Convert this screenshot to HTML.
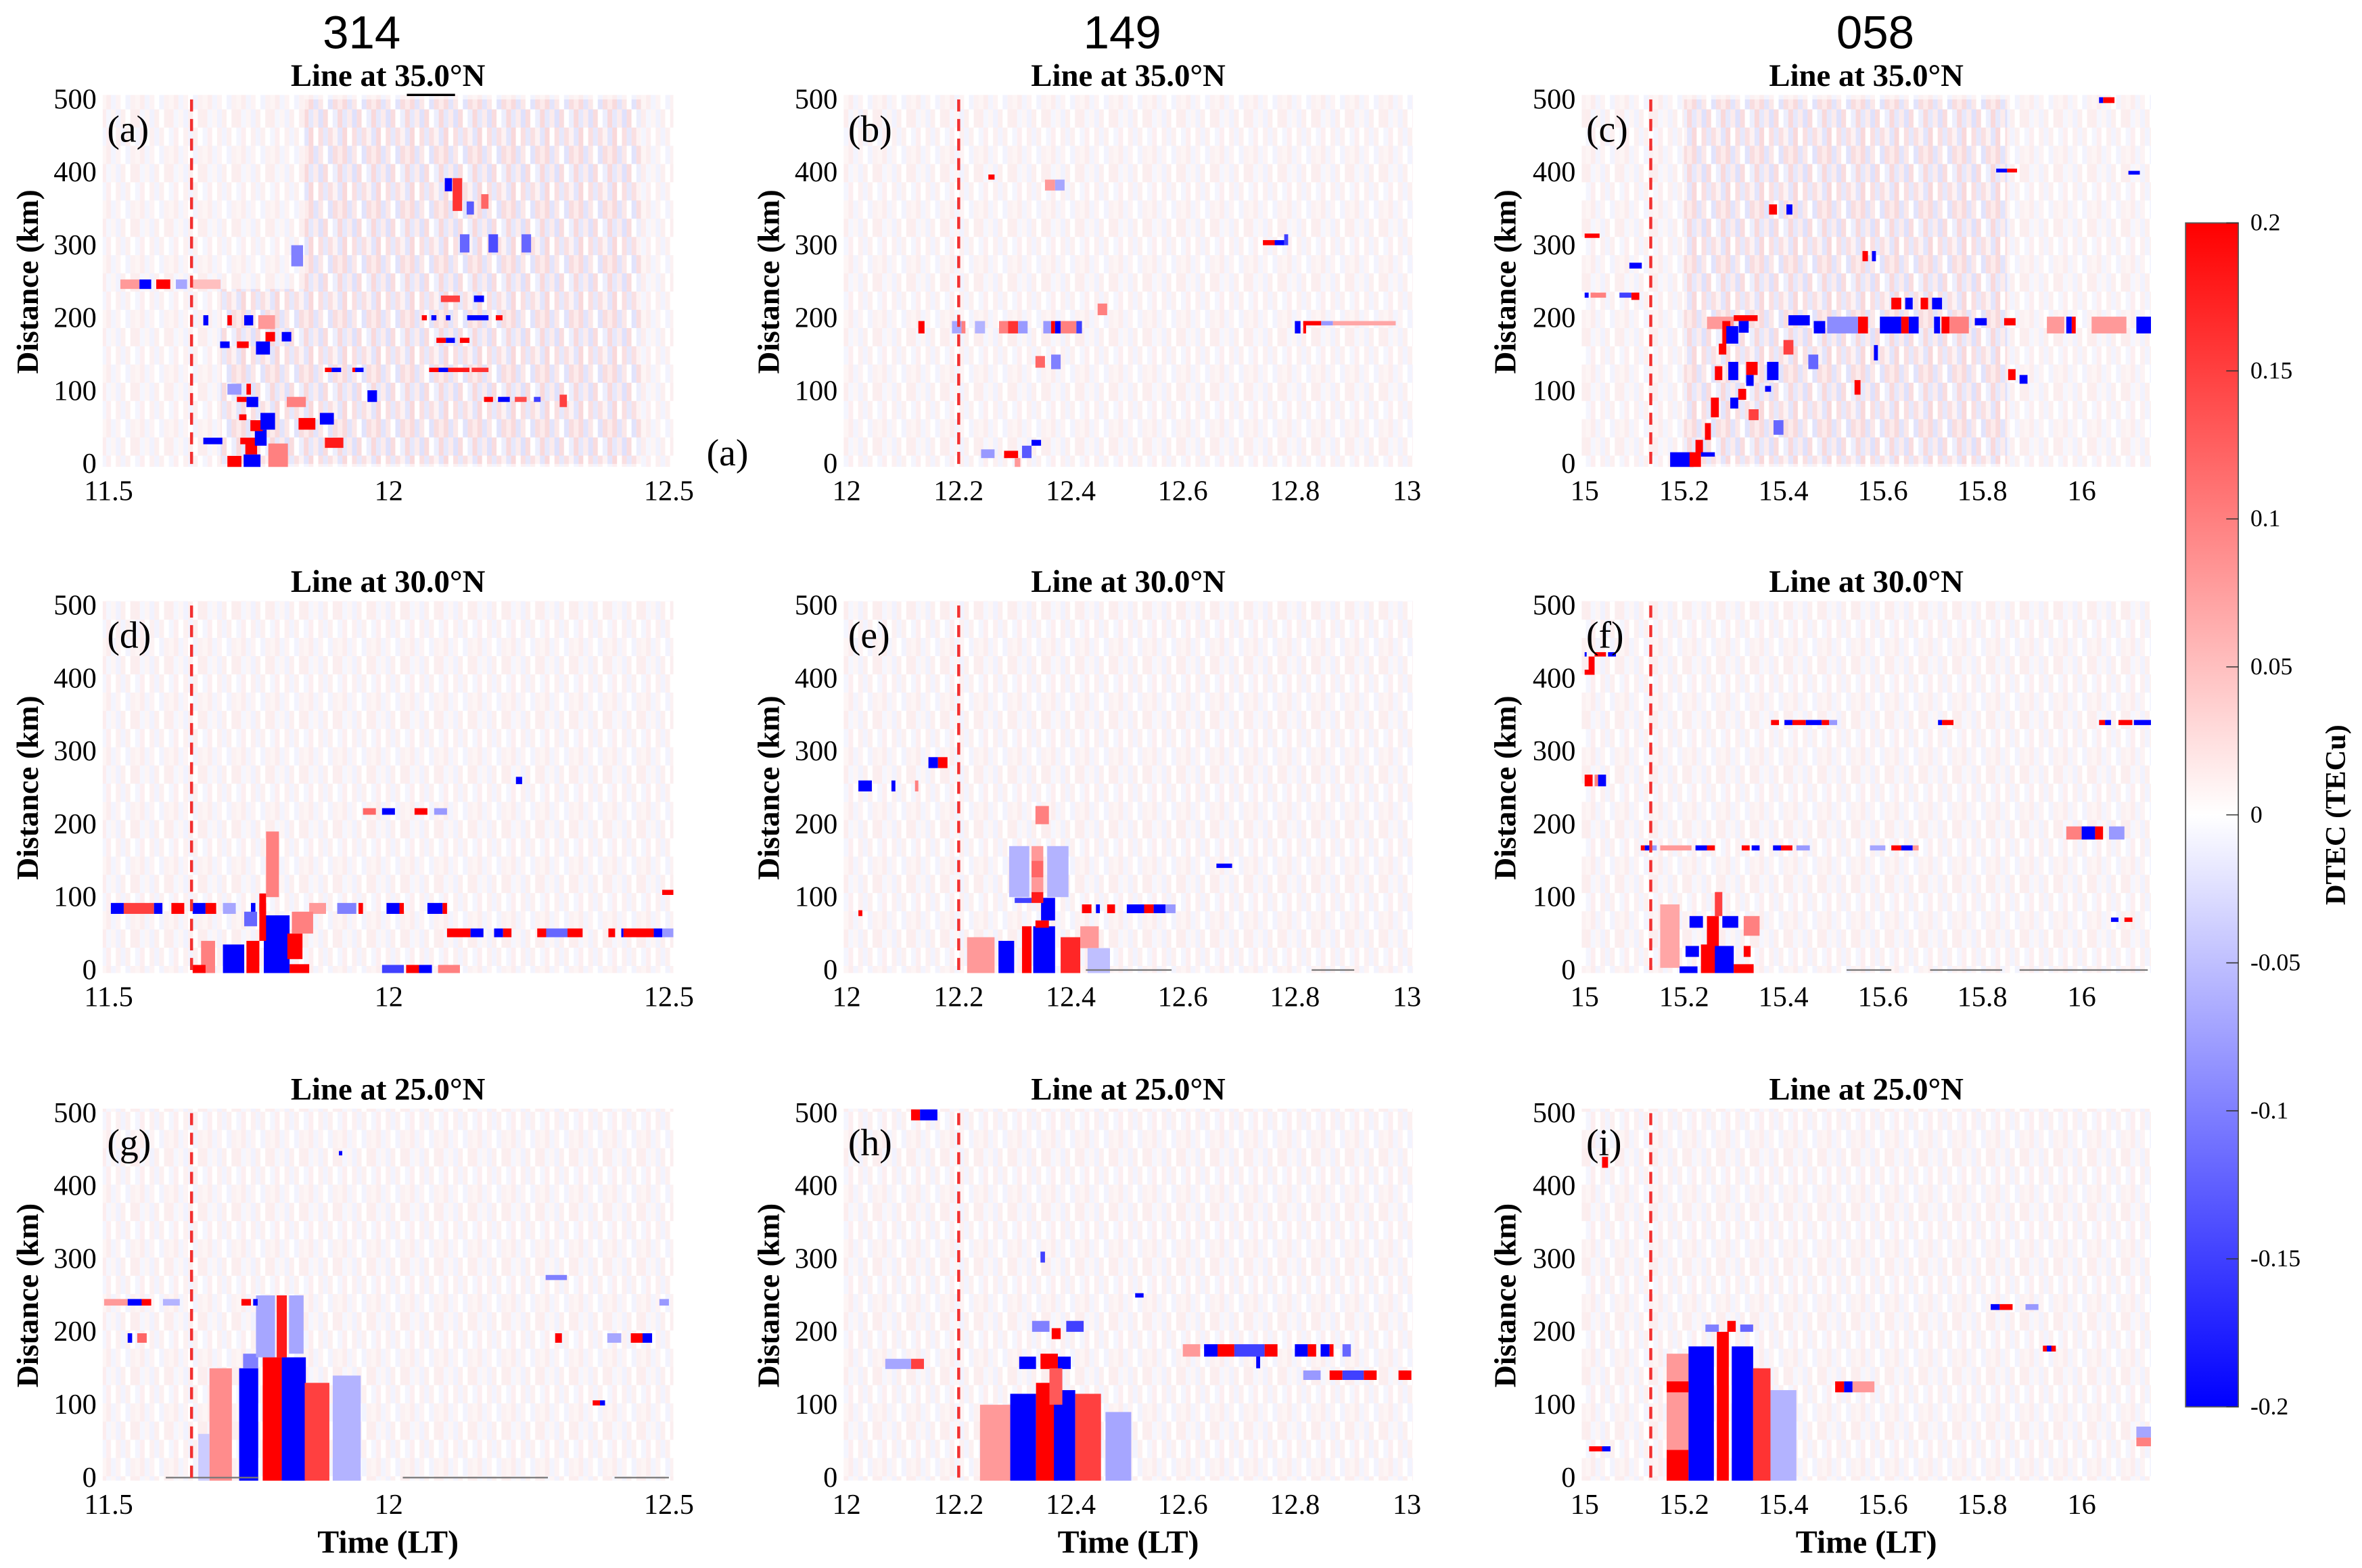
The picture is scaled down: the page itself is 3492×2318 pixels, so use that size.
<!DOCTYPE html>
<html><head><meta charset="utf-8"><title>DTEC keograms</title>
<style>
html,body{margin:0;padding:0;background:#fff;}
svg{display:block;}
text{font-family:"Liberation Serif",serif;fill:#000;}
</style></head>
<body>
<svg id="fig" xmlns="http://www.w3.org/2000/svg" width="3492" height="2318" viewBox="0 0 1568 1041">
<defs>
<pattern id="weakNoise" patternUnits="userSpaceOnUse" width="22.4" height="36.3">
<rect x="0" y="0" width="3.2" height="12.1" fill="#fcedee"/><rect x="3.2" y="0" width="3.2" height="12.1" fill="#f5f6fe"/><rect x="6.4" y="0" width="3.2" height="12.1" fill="#fdf5f5"/><rect x="9.6" y="0" width="3.2" height="12.1" fill="#f1f2fe"/><rect x="12.8" y="0" width="3.2" height="12.1" fill="#fcefef"/><rect x="16" y="0" width="3.2" height="12.1" fill="#fff"/><rect x="19.2" y="0" width="3.2" height="12.1" fill="#fbeeef"/>
<rect x="0" y="12.1" width="3.2" height="12.1" fill="#f4f5fe"/><rect x="3.2" y="12.1" width="3.2" height="12.1" fill="#fdeef0"/><rect x="6.4" y="12.1" width="3.2" height="12.1" fill="#fff"/><rect x="9.6" y="12.1" width="3.2" height="12.1" fill="#fcf0f1"/><rect x="12.8" y="12.1" width="3.2" height="12.1" fill="#f2f3fe"/><rect x="16" y="12.1" width="3.2" height="12.1" fill="#fcf0f0"/><rect x="19.2" y="12.1" width="3.2" height="12.1" fill="#fff"/>
<rect x="0" y="24.2" width="3.2" height="12.1" fill="#fdf5f5"/><rect x="3.2" y="24.2" width="3.2" height="12.1" fill="#fcedee"/><rect x="6.4" y="24.2" width="3.2" height="12.1" fill="#f3f4fe"/><rect x="9.6" y="24.2" width="3.2" height="12.1" fill="#fdf3f4"/><rect x="12.8" y="24.2" width="3.2" height="12.1" fill="#fff"/><rect x="16" y="24.2" width="3.2" height="12.1" fill="#f2f3fe"/><rect x="19.2" y="24.2" width="3.2" height="12.1" fill="#fcf1f2"/>
</pattern>
<pattern id="strongNoise" patternUnits="userSpaceOnUse" width="22.4" height="36.3">
<rect x="0" y="0" width="3.2" height="12.1" fill="#f9d9db"/><rect x="3.2" y="0" width="3.2" height="12.1" fill="#e6e8fc"/><rect x="6.4" y="0" width="3.2" height="12.1" fill="#fcebec"/><rect x="9.6" y="0" width="3.2" height="12.1" fill="#dfe1fc"/><rect x="12.8" y="0" width="3.2" height="12.1" fill="#f9dcde"/><rect x="16" y="0" width="3.2" height="12.1" fill="#fff"/><rect x="19.2" y="0" width="3.2" height="12.1" fill="#eceefd"/>
<rect x="0" y="12.1" width="3.2" height="12.1" fill="#e3e5fc"/><rect x="3.2" y="12.1" width="3.2" height="12.1" fill="#f9d8da"/><rect x="6.4" y="12.1" width="3.2" height="12.1" fill="#fff"/><rect x="9.6" y="12.1" width="3.2" height="12.1" fill="#fadfe1"/><rect x="12.8" y="12.1" width="3.2" height="12.1" fill="#e6e8fc"/><rect x="16" y="12.1" width="3.2" height="12.1" fill="#fae0e2"/><rect x="19.2" y="12.1" width="3.2" height="12.1" fill="#fdf2f3"/>
<rect x="0" y="24.2" width="3.2" height="12.1" fill="#fcebec"/><rect x="3.2" y="24.2" width="3.2" height="12.1" fill="#f9dadc"/><rect x="6.4" y="24.2" width="3.2" height="12.1" fill="#e2e4fc"/><rect x="9.6" y="24.2" width="3.2" height="12.1" fill="#fbe7e8"/><rect x="12.8" y="24.2" width="3.2" height="12.1" fill="#fff"/><rect x="16" y="24.2" width="3.2" height="12.1" fill="#e1e3fc"/><rect x="19.2" y="24.2" width="3.2" height="12.1" fill="#f9dddf"/>
</pattern>
<linearGradient id="cbGrad" x1="0" y1="0" x2="0" y2="1">
<stop offset="0" stop-color="#ff0000"/><stop offset="0.5" stop-color="#ffffff"/><stop offset="1" stop-color="#0000ff"/>
</linearGradient>
</defs>
</svg>
<script>
// ---------- data (t0 [h LT], t1, d0 [km], d1, DTEC [TECu]) ----------
const panelA = [
[11.521,11.555,240,253,0.08],[11.555,11.576,240,253,-0.2],[11.585,11.61,240,253,0.2],[11.62,11.64,240,253,-0.07],[11.65,11.7,240,253,0.05],
[11.669,11.703,27,36,-0.2],[11.735,11.756,27,36,0.2],
[11.712,11.737,0,11,0.2],[11.741,11.771,0,13,-0.2],[11.744,11.765,13,36,0.2],[11.761,11.782,25,47,-0.2],[11.753,11.775,45,60,0.2],[11.771,11.797,47,70,-0.2],[11.733,11.746,60,68,0.2],[11.746,11.767,78,92,-0.2],[11.729,11.746,85,92,0.2],[11.746,11.754,95,110,0.2],[11.712,11.737,95,110,-0.08],
[11.839,11.869,47,63,0.2],[11.886,11.919,22,36,0.18],[11.877,11.902,54,70,-0.2],[11.785,11.82,0,28,0.1],[11.818,11.852,78,92,0.1],[11.962,11.979,85,101,-0.2],
[11.886,11.898,126,132,0.2],[11.898,11.915,126,132,-0.2],[11.935,11.94,126,132,0.2],[11.94,11.955,126,132,-0.2],
[11.699,11.716,159,168,-0.2],[11.729,11.75,159,168,0.2],[11.763,11.788,150,168,-0.2],[11.78,11.797,168,181,0.2],[11.809,11.826,168,181,-0.2],
[11.669,11.678,190,204,-0.2],[11.712,11.72,190,204,0.2],[11.742,11.758,190,204,-0.2],[11.767,11.797,185,204,0.08],
[12.059,12.068,197,204,0.2],[12.076,12.085,197,204,-0.2],[12.102,12.11,197,204,-0.2],[12.14,12.178,197,204,-0.2],[12.191,12.203,197,204,0.2],
[12.093,12.127,222,231,0.15],[12.152,12.17,222,231,-0.2],
[12.085,12.102,166,173,0.2],[12.102,12.118,166,173,-0.2],[12.127,12.144,166,173,0.2],
[12.072,12.089,126,132,0.2],[12.089,12.106,126,132,-0.2],[12.106,12.144,126,132,0.18],[12.148,12.178,126,132,0.16],
[12.17,12.186,85,92,0.2],[12.195,12.216,85,92,-0.2],[12.225,12.246,85,92,0.14],[12.259,12.271,85,92,-0.15],[12.305,12.318,78,95,0.15],
[11.826,11.847,271,300,-0.1],[12.127,12.144,290,315,-0.12],[12.178,12.195,290,315,-0.14],[12.237,12.254,290,315,-0.12],
[12.1,12.113,374,392,-0.2],[12.114,12.131,347,392,0.16],[12.139,12.152,342,360,-0.13],[12.165,12.178,350,370,0.12]
];
const panelB = [
[12.128,12.139,179,196,0.2],[12.188,12.205,179,196,-0.07],[12.205,12.212,179,196,0.1],[12.229,12.247,179,196,-0.06],[12.272,12.288,179,196,0.1],[12.288,12.306,179,196,0.16],[12.306,12.323,179,196,-0.08],[12.351,12.365,179,196,-0.08],[12.365,12.372,179,196,0.2],[12.372,12.382,179,196,-0.2],[12.382,12.41,179,196,0.1],[12.41,12.42,179,196,-0.15],
[12.8,12.81,179,196,-0.2],[12.815,12.847,190,196,0.2],[12.815,12.82,179,196,0.2],[12.847,12.868,190,196,-0.08],[12.868,12.98,190,196,0.07],
[12.743,12.764,300,307,0.2],[12.764,12.781,300,307,-0.2],[12.781,12.788,300,315,-0.15],
[12.253,12.264,390,397,0.2],
[12.24,12.264,8,20,-0.08],[12.281,12.306,8,18,0.2],[12.313,12.33,8,25,-0.13],[12.33,12.347,25,33,-0.2],[12.3,12.31,0,8,0.08],
[12.354,12.372,375,390,0.08],[12.372,12.389,375,390,-0.07],[12.337,12.354,132,148,0.12],[12.365,12.382,130,150,-0.1],[12.448,12.465,204,220,0.1]
];
const panelC = [
[15.246,15.3,185,202,0.08],[15.3,15.348,196,204,0.2],[15.31,15.33,180,196,-0.2],[15.41,15.453,190,204,-0.2],[15.461,15.484,179,196,-0.2],[15.488,15.55,179,202,-0.09],[15.55,15.57,179,202,0.2],[15.594,15.637,179,202,-0.2],[15.637,15.652,179,202,0.2],[15.652,15.672,179,202,-0.2],[15.703,15.715,179,202,-0.2],[15.718,15.734,179,202,0.2],[15.734,15.773,179,202,0.1],[15.785,15.809,190,200,-0.2],[15.844,15.867,190,200,0.2],[15.93,15.965,179,202,0.08],[15.969,15.98,179,202,-0.2],[15.98,15.988,179,202,0.2],[16.02,16.09,179,202,0.08],[16.11,16.14,179,202,-0.2],
[15.223,15.238,15,33,0.2],[15.242,15.254,33,56,0.2],[15.254,15.27,64,91,0.2],[15.262,15.277,115,134,0.2],[15.27,15.285,150,165,0.2],[15.277,15.293,165,196,0.2],[15.285,15.309,165,189,-0.2],[15.289,15.309,115,140,-0.2],[15.325,15.348,122,140,0.2],[15.367,15.39,115,140,-0.2],[15.325,15.34,107,122,-0.2],[15.309,15.325,88,103,0.2],[15.293,15.309,76,91,-0.2],[15.363,15.375,99,107,-0.2],[15.543,15.555,95,115,0.2],[15.582,15.59,142,163,-0.2],[15.559,15.57,278,292,0.2],[15.578,15.586,278,292,-0.2],
[15.617,15.637,212,228,0.2],[15.645,15.66,212,228,-0.2],[15.676,15.691,212,228,0.2],[15.699,15.719,212,228,-0.2],[15.371,15.387,342,356,0.2],[15.406,15.418,342,356,-0.2],[15.852,15.867,115,130,0.2],[15.875,15.891,110,122,-0.2],
[15.172,15.219,0,16,-0.2],[15.211,15.234,0,16,0.2],[15.234,15.262,10,16,-0.2],
[16.043,16.066,495,503,0.2],[16.035,16.043,495,503,-0.2],[15.0,15.03,310,316,0.2],[15.09,15.115,268,276,-0.2],[15.0,15.008,228,235,-0.2],[15.012,15.043,228,235,0.1],[15.07,15.094,228,235,-0.15],[15.094,15.11,225,235,0.2],
[15.828,15.85,401,405,-0.2],[15.85,15.87,401,405,0.2],[16.094,16.117,397,402,-0.2],
[15.33,15.35,60,75,0.15],[15.38,15.4,40,60,-0.12],[15.4,15.42,150,170,0.15],[15.45,15.47,130,150,-0.12]
];
const panelD = [
[11.504,11.527,77,92,-0.2],[11.527,11.581,77,92,0.15],[11.581,11.596,77,92,-0.2],[11.612,11.635,77,92,0.2],[11.65,11.673,77,92,-0.2],[11.673,11.692,77,92,0.2],[11.704,11.727,77,92,-0.07],[11.754,11.762,77,92,-0.2],[11.769,11.781,77,92,0.2],[11.858,11.888,77,92,0.08],[11.908,11.942,77,92,-0.1],[11.946,11.954,77,92,0.2],[11.996,12.019,77,92,-0.2],[12.019,12.027,77,92,0.2],[12.069,12.096,77,92,-0.2],[12.096,12.104,77,92,0.2],
[12.104,12.146,45,57,0.2],[12.146,12.169,45,57,-0.2],[12.188,12.204,45,57,-0.2],[12.204,12.219,45,57,0.2],[12.265,12.281,45,57,0.2],[12.281,12.319,45,57,-0.12],[12.319,12.346,45,57,0.2],[12.392,12.404,45,57,0.2],[12.415,12.419,45,57,-0.2],[12.419,12.473,45,57,0.2],[12.473,12.488,45,57,-0.2],[12.488,12.508,45,57,-0.08],
[12.488,12.508,103,110,0.2],
[11.704,11.742,0,35,-0.2],[11.777,11.823,0,75,-0.2],[11.746,11.769,0,40,0.2],[11.769,11.781,40,105,0.2],[11.819,11.846,15,50,0.2],[11.827,11.865,50,80,0.1],[11.823,11.858,0,8,0.2],[11.781,11.804,100,190,0.1],[11.742,11.765,60,80,-0.12],[11.665,11.69,0,40,0.1],
[11.65,11.673,0,7,0.2],[11.988,12.027,0,7,-0.15],[12.031,12.054,0,7,0.2],[12.054,12.077,0,7,-0.2],[12.088,12.127,0,7,0.1],
[11.954,11.977,213,222,0.12],[11.988,12.011,213,222,-0.2],[12.046,12.069,213,222,0.2],[12.081,12.104,213,222,-0.08],
[12.227,12.238,255,265,-0.2]
];
const panelE = [
[12.146,12.163,277,292,-0.2],[12.163,12.18,277,292,0.2],
[12.021,12.045,245,260,-0.2],[12.08,12.087,245,260,-0.2],[12.122,12.128,245,260,0.1],
[12.021,12.028,74,82,0.2],
[12.347,12.372,68,99,-0.2],[12.42,12.437,78,90,0.2],[12.445,12.452,78,90,-0.2],[12.465,12.479,78,90,0.2],[12.5,12.531,78,90,-0.2],[12.531,12.548,78,90,0.2],[12.548,12.569,78,90,-0.2],[12.569,12.587,78,90,-0.08],
[12.271,12.299,0,40,-0.2],[12.313,12.33,0,60,0.2],[12.333,12.372,0,60,-0.2],[12.382,12.417,0,45,0.17],[12.215,12.264,0,45,0.08],
[12.33,12.351,127,150,0.12],[12.33,12.351,92,107,0.18],[12.33,12.351,107,127,0.08],[12.33,12.351,150,170,0.08],[12.29,12.326,100,170,-0.06],[12.358,12.396,100,170,-0.06],[12.337,12.361,58,68,0.2],[12.3,12.33,92,99,-0.15],
[12.337,12.361,200,225,0.1],[12.66,12.688,140,146,-0.2],
[12.417,12.45,30,60,0.08],[12.43,12.47,0,30,-0.05]
];
const panelF = [
[15.375,15.391,336,343,0.2],[15.402,15.418,336,343,-0.2],[15.418,15.445,336,343,0.2],[15.445,15.477,336,343,-0.2],[15.477,15.492,336,343,0.2],[15.492,15.508,336,343,-0.08],[15.711,15.719,336,343,-0.2],[15.719,15.742,336,343,0.2],[16.035,16.047,336,343,0.2],[16.047,16.059,336,343,-0.2],[16.074,16.102,336,343,0.2],[16.105,16.14,336,343,-0.2],
[15.113,15.121,164,171,0.2],[15.121,15.133,164,171,-0.2],[15.133,15.145,164,171,-0.08],[15.152,15.215,164,171,0.08],[15.223,15.246,164,171,-0.2],[15.246,15.262,164,171,0.2],[15.316,15.332,164,171,0.2],[15.336,15.352,164,171,-0.2],[15.379,15.395,164,171,-0.2],[15.395,15.418,164,171,0.2],[15.426,15.453,164,171,-0.08],[15.574,15.605,164,171,-0.07],[15.617,15.637,164,171,0.2],[15.637,15.66,164,171,-0.2],[15.66,15.672,164,171,0.08],
[15.0,15.004,430,436,-0.2],[15.02,15.043,430,436,0.2],[15.047,15.063,430,436,-0.2],[15.008,15.02,405,430,0.2],[15.0,15.012,405,412,0.2],[15.0,15.016,252,268,0.2],[15.02,15.027,252,268,0.1],[15.027,15.043,252,268,-0.2],
[15.969,16.0,179,197,0.1],[16.0,16.027,179,197,-0.2],[16.027,16.043,179,197,0.2],[16.055,16.086,179,197,-0.08],[16.059,16.074,66,72,-0.2],[16.086,16.102,66,72,0.2],
[15.152,15.191,3,90,0.07],[15.32,15.352,47,74,0.1],
[15.211,15.238,58,74,-0.2],[15.246,15.27,0,74,0.2],[15.262,15.277,74,107,0.15],[15.277,15.309,58,74,-0.2],[15.203,15.23,18,33,-0.2],[15.234,15.262,0,35,0.2],[15.262,15.3,0,33,-0.2],[15.191,15.227,0,5,-0.2],[15.3,15.34,0,8,0.2],[15.32,15.334,18,33,0.2]
];
const panelG = [
[11.68,11.72,0,150,0.09],[11.66,11.68,0,60,-0.04],[11.733,11.767,0,150,-0.2],[11.74,11.767,150,170,-0.1],[11.775,11.809,0,165,0.2],[11.809,11.852,0,165,-0.2],[11.85,11.894,0,130,0.15],[11.9,11.95,0,140,-0.06],
[11.763,11.797,165,250,-0.07],[11.822,11.848,170,250,-0.07],[11.8,11.818,165,250,0.18],
[11.492,11.534,236,245,0.08],[11.534,11.559,236,245,-0.2],[11.559,11.576,236,245,0.2],[11.597,11.627,236,245,-0.06],[11.737,11.754,236,245,0.2],[11.758,11.766,236,245,-0.2],[12.483,12.5,236,245,-0.08],
[11.534,11.542,185,198,-0.2],[11.551,11.568,185,198,0.12],[12.297,12.309,185,198,0.2],[12.39,12.415,185,198,-0.07],[12.432,12.453,185,198,0.2],[12.453,12.47,185,198,-0.2],
[12.364,12.377,99,106,0.2],[12.377,12.386,99,106,-0.2],
[11.911,11.917,442,448,-0.2],[12.28,12.318,271,278,-0.1]
];
const panelH = [
[12.238,12.292,0,100,0.08],[12.292,12.338,0,115,-0.2],[12.338,12.377,0,130,0.2],[12.37,12.408,0,120,-0.2],[12.408,12.454,0,115,0.15],[12.462,12.508,0,90,-0.07],
[12.308,12.338,149,166,-0.2],[12.346,12.377,149,170,0.2],[12.377,12.4,149,166,-0.2],[12.331,12.362,200,215,-0.1],[12.366,12.382,190,205,0.2],[12.392,12.423,200,215,-0.15],[12.362,12.385,100,150,0.13],
[12.6,12.631,166,183,0.08],[12.638,12.662,166,183,-0.2],[12.662,12.692,166,183,0.2],[12.692,12.746,166,183,-0.15],[12.746,12.769,166,183,0.2],[12.8,12.823,166,183,-0.2],[12.823,12.838,166,183,0.2],[12.846,12.862,166,183,-0.2],[12.862,12.869,166,183,0.2],[12.885,12.9,166,183,-0.12],[12.731,12.738,150,166,-0.2],
[12.815,12.846,134,147,-0.08],[12.862,12.885,134,147,0.2],[12.885,12.923,134,147,-0.15],[12.923,12.946,134,147,0.2],[12.985,13.008,134,147,0.2],
[12.115,12.131,490,505,0.2],[12.131,12.162,490,505,-0.2],
[12.115,12.138,149,163,0.15],[12.069,12.115,149,163,-0.07],
[12.515,12.53,247,253,-0.2],[12.346,12.354,295,310,-0.15]
];
const panelI = [
[15.165,15.252,38,170,0.08],[15.165,15.209,0,38,0.2],[15.209,15.26,0,180,-0.2],[15.266,15.29,0,200,0.2],[15.296,15.339,0,180,-0.2],[15.339,15.374,0,150,0.16],[15.374,15.426,0,120,-0.06],[15.165,15.209,117,132,0.2],
[15.243,15.27,200,210,-0.1],[15.287,15.304,200,215,0.2],[15.313,15.339,200,210,-0.12],
[15.009,15.035,36,43,0.2],[15.035,15.052,36,43,-0.2],[15.504,15.522,117,132,0.2],[15.522,15.539,117,132,-0.2],[15.539,15.583,117,132,0.08],
[15.817,15.835,230,238,-0.2],[15.835,15.861,230,238,0.2],[15.887,15.913,230,238,-0.08],[15.922,15.948,173,181,0.2],[15.93,15.939,173,181,-0.2],
[15.035,15.047,425,440,0.2],[16.11,16.14,43,55,0.1],[16.11,16.14,55,70,-0.07]
];
// active (noisier) regions: [t0,t1,d0,d1]
const regionsA = [[11.7,12.45,0,240],[11.85,12.45,240,500]];
const regionsC = [[15.2,15.85,0,500]];
// gray zero-distance segments: [t0,t1]
const zeroG = [[11.602,11.767],[12.025,12.284],[12.403,12.5]];
const zeroE = [[12.427,12.58],[12.83,12.906]];
const zeroF = [[15.527,15.617],[15.695,15.84],[15.875,16.133]];
// axis ticks
const xTicks1 = [11.5,12,12.5];
const xTicks2 = [12,12.2,12.4,12.6,12.8,13];
const xTicks3 = [15,15.2,15.4,15.6,15.8,16];
const yTicks = [0,100,200,300,400,500];
const cbTicks = [0.2,0.15,0.1,0.05,0,-0.05,-0.1,-0.15,-0.2];
const colHeaders = ['314','149','058'];
const rowTitles = ['Line at 35.0°N','Line at 30.0°N','Line at 25.0°N'];
const onsetTimes = [11.648,12.2,15.133];

// ---------- layout ----------
const cols = [
 {t0:11.5,px0:72,pph:372,left:68,right:447,ticks:xTicks1,ylab:18,hx:240},
 {t0:12,px0:562,pph:372,left:560,right:938,ticks:xTicks2,ylab:510,hx:745},
 {t0:15,px0:1052,pph:330,left:1050,right:1428,ticks:xTicks3,ylab:999,hx:1245}
];
const rowBase = [308,644,981];
const KM = 0.484;
const panels = [
 {id:'a',c:0,r:0,rects:panelA,regions:regionsA,zero:[]},
 {id:'b',c:1,r:0,rects:panelB,regions:[],zero:[]},
 {id:'c',c:2,r:0,rects:panelC,regions:regionsC,zero:[]},
 {id:'d',c:0,r:1,rects:panelD,regions:[],zero:[]},
 {id:'e',c:1,r:1,rects:panelE,regions:[],zero:zeroE},
 {id:'f',c:2,r:1,rects:panelF,regions:[],zero:zeroF},
 {id:'g',c:0,r:2,rects:panelG,regions:[],zero:zeroG},
 {id:'h',c:1,r:2,rects:panelH,regions:[],zero:[]},
 {id:'i',c:2,r:2,rects:panelI,regions:[],zero:[]}
];
const NS = 'http://www.w3.org/2000/svg';
const svg = document.getElementById('fig');
function mk(tag, parent){ const e=document.createElementNS(NS,tag); parent.appendChild(e); return e; }
function color(v){
 const t=Math.min(Math.abs(v)/0.2,1); const c=Math.round(255*(1-t));
 return v>=0 ? `rgb(255,${c},${c})` : `rgb(${c},${c},255)`;
}
function fmt(v){ return (Math.round(v*10)/10).toString(); }

colHeaders.forEach((h,i)=>{
 const t=mk('text',svg);
 
 
 t.setAttribute('x',cols[i].hx); t.setAttribute('y',32);
 t.setAttribute('text-anchor','middle');
 t.setAttribute('style','font-family:"Liberation Sans",sans-serif;font-size:31px;');
 t.textContent=h;
});

panels.forEach(p=>{
 const col=cols[p.c], base=rowBase[p.r];
 const xs=t=>col.px0+(t-col.t0)*col.pph;
 const ys=d=>base-d*KM;
 const top=base-245, bot=base+2;
 const g=mk('g',svg);
 
 
 const cp=mk('clipPath',g); cp.setAttribute('id','clip-'+p.id);
 const cr=mk('rect',cp); cr.setAttribute('x',col.left); cr.setAttribute('y',top); cr.setAttribute('width',col.right-col.left); cr.setAttribute('height',bot-top);
 const hm=mk('g',g);
 
 
 hm.setAttribute('clip-path','url(#clip-'+p.id+')');
 const bg=mk('rect',hm);
 
 
 bg.setAttribute('x',col.left); bg.setAttribute('y',top); bg.setAttribute('width',col.right-col.left); bg.setAttribute('height',bot-top); bg.setAttribute('fill','url(#weakNoise)');
 p.regions.forEach(rg=>{
  const r=mk('rect',hm);
  
  
  const y1=Math.max(ys(rg[3]),top);
  r.setAttribute('x',xs(rg[0])); r.setAttribute('y',y1); r.setAttribute('width',xs(rg[1])-xs(rg[0])); r.setAttribute('height',ys(rg[2])-y1);
  r.setAttribute('fill','url(#strongNoise)');
 });
 p.rects.forEach(c=>{
  const r=mk('rect',hm);
  
  
  const x0=xs(c[0]), x1=xs(c[1]), y0=ys(c[3]), y1=ys(c[2])+ (c[2]===0?3:0);
  r.setAttribute('x',x0); r.setAttribute('y',y0); r.setAttribute('width',Math.max(x1-x0,1.2)); r.setAttribute('height',Math.max(y1-y0,2.5));
  r.setAttribute('fill',color(c[4]));
 });
 p.zero.forEach(z=>{
  const l=mk('line',hm);
  
  
  l.setAttribute('x1',xs(z[0])); l.setAttribute('x2',xs(z[1])); l.setAttribute('y1',base); l.setAttribute('y2',base);
  l.setAttribute('stroke','#777'); l.setAttribute('stroke-width','1');
 });
 const dl=mk('line',g);
 
 
 const xo=xs(onsetTimes[p.c]);
 dl.setAttribute('x1',xo); dl.setAttribute('x2',xo); dl.setAttribute('y1',top+3); dl.setAttribute('y2',base);
 dl.setAttribute('stroke','#f23030'); dl.setAttribute('stroke-width','2'); dl.setAttribute('stroke-dasharray','8 5');
 const tt=mk('text',g);
 
 
 tt.setAttribute('x',(col.left+col.right)/2); tt.setAttribute('y',base-251);
 tt.setAttribute('text-anchor','middle'); tt.setAttribute('font-weight','bold'); tt.setAttribute('font-size','21');
 tt.textContent=rowTitles[p.r];
 const lt=mk('text',g);
 
 
 lt.setAttribute('x',col.left+3); lt.setAttribute('y',base-214); lt.setAttribute('font-size','25');
 lt.textContent='('+p.id+')';
 yTicks.forEach(v=>{
  const t=mk('text',g);
  
  
  t.setAttribute('x',col.left-4); t.setAttribute('y',ys(v)+6); t.setAttribute('text-anchor','end'); t.setAttribute('font-size','19');
  t.textContent=String(v);
 });
 col.ticks.forEach(v=>{
  const t=mk('text',g);
  
  
  t.setAttribute('x',xs(v)); t.setAttribute('y',base+24); t.setAttribute('text-anchor','middle'); t.setAttribute('font-size','19');
  t.textContent=fmt(v);
 });
 const ya=mk('text',g);
 
 
 const cy=base-121;
 ya.setAttribute('transform',`translate(${col.ylab+7},${cy}) rotate(-90)`);
 ya.setAttribute('text-anchor','middle'); ya.setAttribute('font-weight','bold'); ya.setAttribute('font-size','20.5');
 ya.textContent='Distance (km)';
 if(p.r===2){
  const xa=mk('text',g);
  
  
  xa.setAttribute('x',(col.left+col.right)/2); xa.setAttribute('y',base+50);
  xa.setAttribute('text-anchor','middle'); xa.setAttribute('font-weight','bold'); xa.setAttribute('font-size','21.5');
  xa.textContent='Time (LT)';
 }
 if(p.id==='a'){
  const ul=mk('line',g);
  
  
  ul.setAttribute('x1',270); ul.setAttribute('x2',302); ul.setAttribute('y1',63); ul.setAttribute('y2',63);
  ul.setAttribute('stroke','#000'); ul.setAttribute('stroke-width','1.5');
 }
});

const stray=mk('text',svg);


stray.setAttribute('x',469); stray.setAttribute('y',309); stray.setAttribute('font-size','25');
stray.textContent='(a)';

const cb=mk('g',svg);


const cbTop=148, cbBot=934, cbL=1451, cbR=1486;
const cbs=v=>cbTop+(0.2-v)/0.4*(cbBot-cbTop);
const cbr=mk('rect',cb);


cbr.setAttribute('x',cbL); cbr.setAttribute('y',cbTop); cbr.setAttribute('width',cbR-cbL); cbr.setAttribute('height',cbBot-cbTop);
cbr.setAttribute('fill','url(#cbGrad)'); cbr.setAttribute('stroke','#555'); cbr.setAttribute('stroke-width','0.8');
cbTicks.forEach(v=>{
 const tk=mk('line',cb);
 
 
 tk.setAttribute('x1',cbR-8); tk.setAttribute('x2',cbR); tk.setAttribute('y1',cbs(v)); tk.setAttribute('y2',cbs(v));
 tk.setAttribute('stroke','#333'); tk.setAttribute('stroke-width','0.7');
 const t=mk('text',cb);
 
 
 t.setAttribute('x',cbR+8); t.setAttribute('y',cbs(v)+5); t.setAttribute('font-size','16');
 t.textContent=String(v);
});
const cbt=mk('text',cb);


cbt.setAttribute('transform','translate(1557,541) rotate(-90)');
cbt.setAttribute('text-anchor','middle'); cbt.setAttribute('font-weight','bold'); cbt.setAttribute('font-size','19');
cbt.textContent='DTEC (TECu)';
</script>
</body></html>
